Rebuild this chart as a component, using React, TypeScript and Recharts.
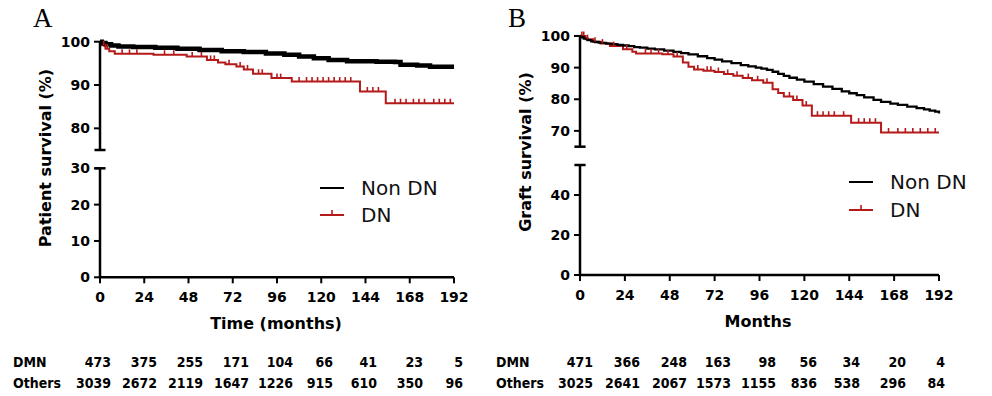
import React from "react";
import { ComposedChart, Line, Scatter, XAxis, YAxis, ReferenceLine } from "recharts";

// x axis (months)
const monthTicks = [0, 24, 48, 72, 96, 120, 144, 168, 192];

// Panel A – patient survival
const nonDnTimeA = [0, 1, 3, 6, 10, 18, 30, 42, 54, 66, 78, 90, 100, 108, 116, 124, 134, 150, 160, 163, 172, 179, 192];
const nonDnSurvA = [100, 99.7, 99.4, 99.1, 98.9, 98.8, 98.6, 98.4, 98.1, 97.8, 97.6, 97.3, 97.0, 96.6, 96.2, 95.8, 95.5, 95.4, 95.3, 94.7, 94.5, 94.2, 94.2];
const dnTimeA = [0, 1, 3, 5, 8, 29, 47, 58, 64, 68, 74, 78, 83, 93, 104, 141, 155, 192];
const dnSurvA = [100, 99.2, 98.4, 97.8, 97.2, 97.0, 96.6, 95.8, 95.2, 94.8, 94.3, 93.6, 92.6, 91.6, 90.8, 88.5, 85.8, 85.8];
const dnCensorA = [2, 3, 4, 12, 16, 20, 35, 40, 50, 55, 60, 62, 70, 76, 80, 86, 88, 96, 98, 108, 112, 115, 118, 121, 124, 127, 130, 133, 136, 145, 148, 151, 160, 163, 166, 170, 173, 176, 181, 184, 187, 190];

// Panel B – graft survival
const nonDnTimeB = [0, 1, 2, 4, 6, 8, 10, 12, 14, 17, 20, 23, 26, 29, 32, 36, 40, 45, 50, 54, 58, 63, 68, 72, 76, 81, 86, 90, 94, 97, 100, 103, 106, 109, 112, 116, 120, 125, 130, 135, 140, 144, 148, 152, 157, 161, 166, 170, 175, 180, 184, 187, 190, 192];
const nonDnSurvB = [100, 99.6, 99.2, 98.7, 98.3, 98.1, 97.9, 97.8, 97.6, 97.4, 97.2, 97.0, 96.8, 96.5, 96.3, 96.0, 95.8, 95.4, 95.0, 94.6, 94.2, 93.6, 93.0, 92.5, 92.0, 91.4, 90.8, 90.4, 90.0, 89.7, 89.3, 88.7, 88.0, 87.4, 86.8, 86.2, 85.6, 84.8, 84.0, 83.3, 82.5, 81.9, 81.3, 80.6, 79.8, 79.2, 78.6, 78.2, 77.7, 77.2, 76.8, 76.4, 76.1, 75.5];
const dnTimeB = [0, 3, 7, 11, 16, 23, 28, 30, 44, 50, 55, 58, 61, 66, 72, 77, 82, 87, 92, 98, 103, 106, 109, 114, 119, 124, 145, 161, 192];
const dnSurvB = [100, 99.0, 98.2, 97.6, 96.8, 95.8, 95.0, 94.5, 94.2, 93.5, 91.6, 90.3, 89.4, 89.0, 88.6, 88.0, 87.4, 86.7, 86.0, 85.2, 83.2, 82.0, 80.9, 79.8, 78.0, 74.8, 72.6, 69.5, 69.5];
const dnCensorB = [1, 2, 4, 8, 12, 18, 25, 35, 38, 42, 47, 52, 63, 68, 70, 74, 79, 84, 90, 95, 100, 112, 116, 121, 127, 130, 133, 136, 141, 149, 152, 155, 158, 165, 170, 174, 178, 182, 186, 190];

// numbers at risk
const riskDmnA = [473, 375, 255, 171, 104, 66, 41, 23, 5];
const riskOthersA = [3039, 2672, 2119, 1647, 1226, 915, 610, 350, 96];
const riskDmnB = [471, 366, 248, 163, 98, 56, 34, 20, 4];
const riskOthersB = [3025, 2641, 2067, 1573, 1155, 836, 538, 296, 84];

const FONT = "'DejaVu Sans', Arial, sans-serif";
const RED = "#b51a1a";

const stepAt = (times: number[], surv: number[], t: number) => {
  let v = surv[0];
  times.forEach((x, i) => {
    if (x <= t) v = surv[i];
  });
  return v;
};
const rows = (times: number[], surv: number[]) => times.map((t, i) => ({ t, s: surv[i] }));
const censorRows = (times: number[], surv: number[], cens: number[]) =>
  cens.map((t) => ({ t, s: stepAt(times, surv, t) }));

const CensorMark = (props: any) => {
  const { cx, cy } = props;
  if (cx == null || cy == null) return null;
  return <line x1={cx} x2={cx} y1={cy} y2={cy - 4.5} stroke={RED} strokeWidth={1.6} />;
};

const tickStyle = { fill: "#000", fontSize: 14, fontWeight: "bold" as const, fontFamily: FONT };
const axisStroke = { stroke: "#000", strokeWidth: 2.5 };

interface PanelProps {
  left: number;
  axisX: number;
  xEnd: number;
  topY: [number, number];
  topDomain: [number, number];
  topTicks: number[];
  botY: [number, number];
  botDomain: [number, number];
  botTicks: number[];
  nonTimes: number[];
  nonSurv: number[];
  dnTimes: number[];
  dnSurv: number[];
  dnCensor: number[];
  blackWidth: number;
}

function Panel(p: PanelProps) {
  const W = 480;
  const H1 = 160;
  const T2 = 160;
  const right = W - (p.xEnd - p.left);
  const yw = p.axisX - p.left;
  const H2 = p.botY[1] - T2 + 30;
  return (
    <>
      <div style={{ position: "absolute", left: p.left, top: 0 }}>
        <ComposedChart
          width={W}
          height={H1}
          margin={{ top: p.topY[0], right, bottom: H1 - p.topY[1], left: 0 }}
        >
          <XAxis dataKey="t" type="number" domain={[0, 192]} ticks={monthTicks} hide />
          <YAxis
            type="number"
            domain={p.topDomain}
            ticks={p.topTicks}
            width={yw}
            tick={tickStyle}
            tickSize={6}
            tickMargin={4}
            axisLine={axisStroke}
            tickLine={{ stroke: "#000", strokeWidth: 2 }}
          />
          <ReferenceLine
            segment={[{ x: -3, y: p.topDomain[0] }, { x: 3, y: p.topDomain[0] }]}
            stroke="#000"
            strokeWidth={2.5}
            ifOverflow="visible"
          />
          <Line
            data={rows(p.dnTimes, p.dnSurv)}
            dataKey="s"
            type="stepAfter"
            stroke={RED}
            strokeWidth={2}
            dot={false}
            isAnimationActive={false}
          />
          <Scatter
            data={censorRows(p.dnTimes, p.dnSurv, p.dnCensor)}
            dataKey="s"
            shape={CensorMark}
            isAnimationActive={false}
          />
          <Line
            data={rows(p.nonTimes, p.nonSurv)}
            dataKey="s"
            type="stepAfter"
            stroke="#000"
            strokeWidth={p.blackWidth}
            dot={false}
            isAnimationActive={false}
          />
        </ComposedChart>
      </div>
      <div style={{ position: "absolute", left: p.left, top: T2 }}>
        <ComposedChart
          width={W}
          height={H2}
          margin={{ top: p.botY[0] - T2, right, bottom: 0, left: 0 }}
        >
          <XAxis
            dataKey="t"
            type="number"
            domain={[0, 192]}
            ticks={monthTicks}
            height={30}
            tick={tickStyle}
            tickSize={6}
            tickMargin={9}
            axisLine={axisStroke}
            tickLine={{ stroke: "#000", strokeWidth: 2 }}
          />
          <YAxis
            type="number"
            domain={p.botDomain}
            ticks={p.botTicks}
            allowDataOverflow
            width={yw}
            tick={tickStyle}
            tickSize={6}
            tickMargin={4}
            axisLine={axisStroke}
            tickLine={{ stroke: "#000", strokeWidth: 2 }}
          />
          <ReferenceLine
            segment={[{ x: -3, y: p.botDomain[1] }, { x: 3, y: p.botDomain[1] }]}
            stroke="#000"
            strokeWidth={2.5}
            ifOverflow="visible"
          />
          {/* lower part of the broken axis: curves lie above its range */}
          <Line
            data={rows(p.nonTimes, p.nonSurv)}
            dataKey="s"
            type="stepAfter"
            stroke="none"
            dot={false}
            isAnimationActive={false}
          />
        </ComposedChart>
      </div>
    </>
  );
}

function LegendBox({ x, y, gap }: { x: number; y: number; gap: number }) {
  return (
    <g fontFamily={FONT} fontSize={20} fill="#111">
      <line x1={x} x2={x + 24} y1={y} y2={y} stroke="#000" strokeWidth={2} />
      <text x={x + 41} y={y + 7}>Non DN</text>
      <line x1={x} x2={x + 24} y1={y + gap} y2={y + gap} stroke={RED} strokeWidth={2} />
      <line x1={x + 12} x2={x + 12} y1={y + gap} y2={y + gap - 5} stroke={RED} strokeWidth={1.6} />
      <text x={x + 41} y={y + gap + 7}>DN</text>
    </g>
  );
}

const colEndA = [111, 157, 203, 249, 293, 333, 377, 423, 463];
const colEndB = [593, 640, 687, 731, 776, 817, 860, 906, 945];

function RiskTable({ x0, ends, dmn, others }: { x0: number; ends: number[]; dmn: number[]; others: number[] }) {
  const style = { fontFamily: "'DejaVu Sans Condensed', 'DejaVu Sans', sans-serif", fontStretch: "condensed" };
  return (
    <g fontSize={14} fontWeight="bold" fill="#000" style={style as any}>
      <text x={x0} y={367}>DMN</text>
      <text x={x0} y={388}>Others</text>
      {dmn.map((v, i) => (
        <text key={"d" + i} x={ends[i]} y={367} textAnchor="end">{v}</text>
      ))}
      {others.map((v, i) => (
        <text key={"o" + i} x={ends[i]} y={388} textAnchor="end">{v}</text>
      ))}
    </g>
  );
}

export default function App() {
  return (
    <div style={{ position: "absolute", left: 0, top: 0, width: 992, height: 396, background: "#fff" }}>
      <Panel
        left={0}
        axisX={100}
        xEnd={454}
        topY={[41.7, 150]}
        topDomain={[75, 100]}
        topTicks={[80, 90, 100]}
        botY={[168.3, 277.3]}
        botDomain={[0, 30]}
        botTicks={[0, 10, 20, 30]}
        nonTimes={nonDnTimeA}
        nonSurv={nonDnSurvA}
        dnTimes={dnTimeA}
        dnSurv={dnSurvA}
        dnCensor={dnCensorA}
        blackWidth={4.5}
      />
      <Panel
        left={480}
        axisX={580}
        xEnd={939}
        topY={[36, 146.7]}
        topDomain={[65, 100]}
        topTicks={[70, 80, 90, 100]}
        botY={[165, 275]}
        botDomain={[0, 55]}
        botTicks={[0, 20, 40]}
        nonTimes={nonDnTimeB}
        nonSurv={nonDnSurvB}
        dnTimes={dnTimeB}
        dnSurv={dnSurvB}
        dnCensor={dnCensorB}
        blackWidth={2.3}
      />
      <svg width={992} height={396} style={{ position: "absolute", left: 0, top: 0, pointerEvents: "none" }}>
        <text x={33} y={27} fontFamily="'Liberation Serif', serif" fontSize={27} fill="#000">A</text>
        <text x={508} y={27} fontFamily="'Liberation Serif', serif" fontSize={27} fill="#000">B</text>
        <text
          transform="translate(51,158) rotate(-90)"
          textAnchor="middle"
          fontFamily={FONT}
          fontWeight="bold"
          fontSize={16}
          fill="#000"
        >
          Patient survival (%)
        </text>
        <text
          transform="translate(531,152) rotate(-90)"
          textAnchor="middle"
          fontFamily={FONT}
          fontWeight="bold"
          fontSize={16}
          fill="#000"
        >
          Graft survival (%)
        </text>
        <text x={276} y={329} textAnchor="middle" fontFamily={FONT} fontWeight="bold" fontSize={16} fill="#000">
          Time (months)
        </text>
        <text x={758} y={327} textAnchor="middle" fontFamily={FONT} fontWeight="bold" fontSize={16} fill="#000">
          Months
        </text>
        <LegendBox x={320} y={188} gap={27} />
        <LegendBox x={849} y={182} gap={28} />
        <RiskTable x0={13} ends={colEndA} dmn={riskDmnA} others={riskOthersA} />
        <RiskTable x0={496} ends={colEndB} dmn={riskDmnB} others={riskOthersB} />
      </svg>
    </div>
  );
}
